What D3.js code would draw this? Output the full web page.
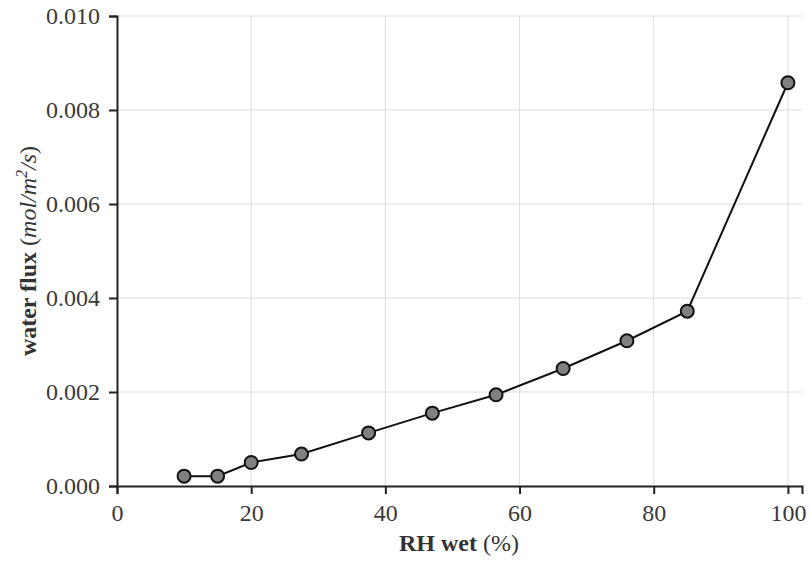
<!DOCTYPE html>
<html><head><meta charset="utf-8">
<script src="https://cdn.jsdelivr.net/npm/d3@7"></script>
<style>body{margin:0;background:#fff} svg text{font-family:'Liberation Serif','Times New Roman',serif !important;}</style>
</head><body>
<svg id="c" width="811" height="565"></svg>
<script>
const rhWet = [10, 15, 20, 27.5, 37.5, 47, 56.5, 66.5, 76, 85, 100];
const waterFlux = [0.00021, 0.00021, 0.0005, 0.00068, 0.00113, 0.00155, 0.00194, 0.0025, 0.00309, 0.00372, 0.00858];
const xTicks = [0, 20, 40, 60, 80, 100];
const yTicks = [0, 0.002, 0.004, 0.006, 0.008, 0.010];

(function () {
const svg = d3.select("#c");
const mL = 117, mR = 802, mT = 16, mB = 486;
const x = d3.scaleLinear().domain([0, 102.1]).range([mL, mR]);
const y = d3.scaleLinear().domain([0, 0.010]).range([mB, mT]);
const font = "'Liberation Serif','Times New Roman',serif";

// grid
svg.append("g").selectAll("line").data(xTicks.slice(1)).join("line")
  .attr("x1", d => x(d)).attr("x2", d => x(d)).attr("y1", mT).attr("y2", mB)
  .attr("stroke", "#dcdcdc").attr("stroke-width", 1);
svg.append("g").selectAll("line").data(yTicks.slice(1)).join("line")
  .attr("x1", mL).attr("x2", mR).attr("y1", d => y(d)).attr("y2", d => y(d))
  .attr("stroke", "#dcdcdc").attr("stroke-width", 1);

// axes
const xAxis = svg.append("g").attr("transform", `translate(0,${mB})`)
  .call(d3.axisBottom(x).tickValues(xTicks).tickFormat(d3.format("d")).tickSizeOuter(0).tickSize(8).tickPadding(10));
const yAxis = svg.append("g").attr("transform", `translate(${mL},0)`)
  .call(d3.axisLeft(y).tickValues(yTicks).tickFormat(d3.format(".3f")).tickSizeOuter(0).tickSize(8).tickPadding(9));
[xAxis, yAxis].forEach(a => {
  a.attr("font-family", font).attr("font-size", 24);
  a.select(".domain").attr("stroke", "#222").attr("stroke-width", 2);
  a.selectAll(".tick line").attr("stroke", "#222").attr("stroke-width", 2);
  a.selectAll("text").style("font-family", font).attr("font-size", 24).attr("fill", "#3a3a3a");
});

// line + points
const pts = rhWet.map((d, i) => [d, waterFlux[i]]);
svg.append("path").datum(pts)
  .attr("fill", "none").attr("stroke", "#111").attr("stroke-width", 2)
  .attr("d", d3.line().x(d => x(d[0])).y(d => y(d[1])));
svg.append("g").selectAll("circle").data(pts).join("circle")
  .attr("cx", d => x(d[0])).attr("cy", d => y(d[1])).attr("r", 6.5)
  .attr("fill", "#808080").attr("stroke", "#111").attr("stroke-width", 2);

// x label
const xl = svg.append("text").attr("x", 459).attr("y", 551)
  .attr("text-anchor", "middle").style("font-family", font).attr("font-size", 24).attr("fill", "#333");
xl.append("tspan").attr("font-weight", "bold").text("RH wet ");
xl.append("tspan").text("(%)");

// y label
const yl = svg.append("text").attr("transform", `translate(36,${(mT + mB) / 2}) rotate(-90)`)
  .attr("text-anchor", "middle").style("font-family", font).attr("font-size", 24).attr("fill", "#333");
yl.append("tspan").attr("font-weight", "bold").text("water flux ");
yl.append("tspan").text("(");
yl.append("tspan").attr("font-style", "italic").text("mol/m");
yl.append("tspan").attr("font-style", "italic").attr("font-size", 16).attr("dy", -9).text("2");
yl.append("tspan").attr("font-style", "italic").attr("dy", 9).text("/s");
yl.append("tspan").text(")");
})();
</script>
</body></html>
